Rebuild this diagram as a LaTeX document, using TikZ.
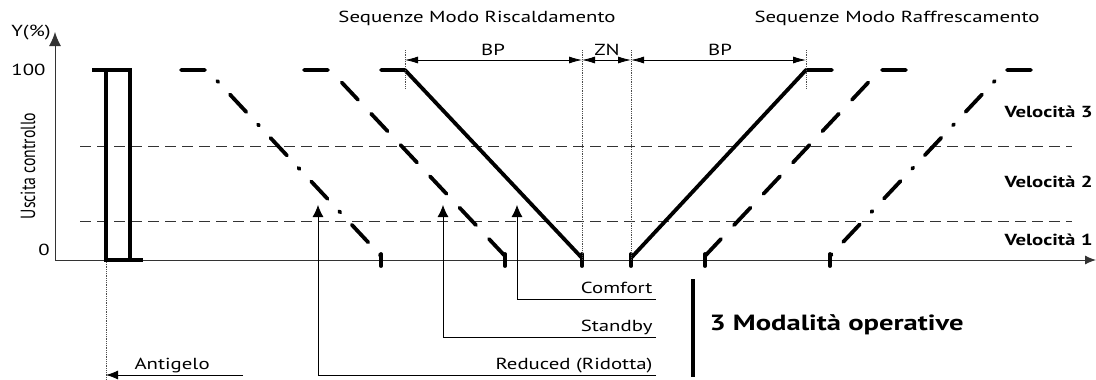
\documentclass[tikz,border=0pt]{standalone}
\usepackage{fontspec}
\setsansfont{PT Sans}[FakeStretch = 1.3]
\newfontfamily\axisfont{PT Sans}[FakeStretch = 0.77]
\usetikzlibrary{arrows.meta}
\usetikzlibrary{positioning}

\begin{document}
\begin{tikzpicture}[x = 1pt, y = -1pt, font = \sffamily\fontsize{16}{18}\selectfont,
	curve/.style = {black, line width = 3.8pt, line cap = round, line join = round},
	longdash/.style = {curve, dash pattern = on 24pt off 19pt},
	dashdot/.style = {curve, dash pattern = on 24pt off 17pt on 1.5pt off 17pt},
	level/.style = {black!80, line width = 0.9pt, dash pattern = on 11pt off 6pt},
	guide/.style = {black!70, line width = 0.8pt, densely dotted},
	dimline/.style = {black, line width = 0.8pt, {Latex[length = 13pt, width = 7pt]}-{Latex[length = 13pt, width = 7pt]}},
	pointer/.style = {black, line width = 0.8pt, -{Latex[length = 12pt, width = 11pt]}},
	speed/.style = {anchor = west, font = \sffamily\bfseries\fontsize{16}{18}\selectfont}]
	\useasboundingbox (0, 0) rectangle (1096, 380);

	% axes
	\draw [black!80, line width = 1pt, -{Latex[length = 11pt, width = 9pt]}] (55, 260) -- (1096, 260);
	\draw [black!80, line width = 1pt, -{Latex[length = 14pt, width = 12pt]}] (55, 260) -- (55, 32);
	\node (yname) at (31, 33) {Y(\%)};
	\node [anchor = east] (ymax) at (49, 70) {100};
	\node (ymin) at (44, 250) {0};
	\node [rotate = 90, font = \axisfont\fontsize{20.5}{22}\selectfont] (yaxis) at (28, 166) {Uscita controllo};

	% speed levels
	\draw [level] (80, 146) -- (1072, 146);
	\draw [level] (80, 221) -- (1072, 221);
	\node [speed] (speed3) at (1001, 112) {Velocità 3};
	\node [speed] (speed2) at (1001, 182) {Velocità 2};
	\node [speed] (speed1) at (1001, 240) {Velocità 1};

	% titles
	\node (heating) at (477, 18) {Sequenze Modo Riscaldamento};
	\node (cooling) at (897, 18) {Sequenze Modo Raffrescamento};

	% antigelo
	\draw [curve, line cap = butt, line join = miter] (92, 70) -- (130, 70) -- (130, 260) -- (143, 260);
	\draw [curve, line cap = butt, line join = miter] (130, 260) -- (106, 260) -- (106, 70);
	\draw [guide] (106, 262) -- (106, 380);

	% heating
	\draw [dashdot] (181, 70) -- (207, 70) -- (381, 256);
	\draw [longdash] (304, 70) -- (330, 70) -- (505, 256);
	\draw [curve] (381, 70) -- (405, 70) -- (582, 258);
	% cooling
	\draw [curve] (832, 70) -- (806, 70) -- (631, 258);
	\draw [longdash] (906, 70) -- (880, 70) -- (705, 256);
	\draw [dashdot] (1031, 70) -- (1005, 70) -- (830, 256);
	\foreach \x in {381, 505, 582, 631, 705, 830}
		\draw [curve] (\x, 254) -- (\x, 266);

	% bands
	\draw [guide] (405, 50) -- (405, 88);
	\draw [guide] (582, 50) -- (582, 260);
	\draw [guide] (631, 50) -- (631, 260);
	\draw [guide] (806, 50) -- (806, 88);
	\draw [dimline] (405, 60) -- (582, 60);
	\draw [dimline] (582, 60) -- (631, 60);
	\draw [dimline] (631, 60) -- (806, 60);
	\node (bpheat) at (493, 50) {BP};
	\node (zn) at (607, 50) {ZN};
	\node (bpcool) at (720, 50) {BP};

	% modes
	\node [anchor = base east] (comfort) at (656, 293) {Comfort};
	\node [anchor = base east] (standby) at (656, 331) {Standby};
	\node [anchor = base east] (reduced) at (656, 369) {Reduced (Ridotta)};
	\draw [pointer] (656, 299) -| (517, 205);
	\draw [pointer] (656, 337) -| (443, 205);
	\draw [pointer] (656, 375) -| (318, 205);
	\node [anchor = base west] (antigelo) at (131, 369) {Antigelo};
	\draw [pointer, -{Latex[length = 12pt, width = 9pt]}] (243, 375) -- (106, 375);

	\draw [black, line width = 4pt] (693, 279) -- (693, 377);
	\node [anchor = west, font = \sffamily\bfseries\fontsize{22}{26}\selectfont] (modes) at (706, 325) {3 Modalità operative};
\end{tikzpicture}
\end{document}
